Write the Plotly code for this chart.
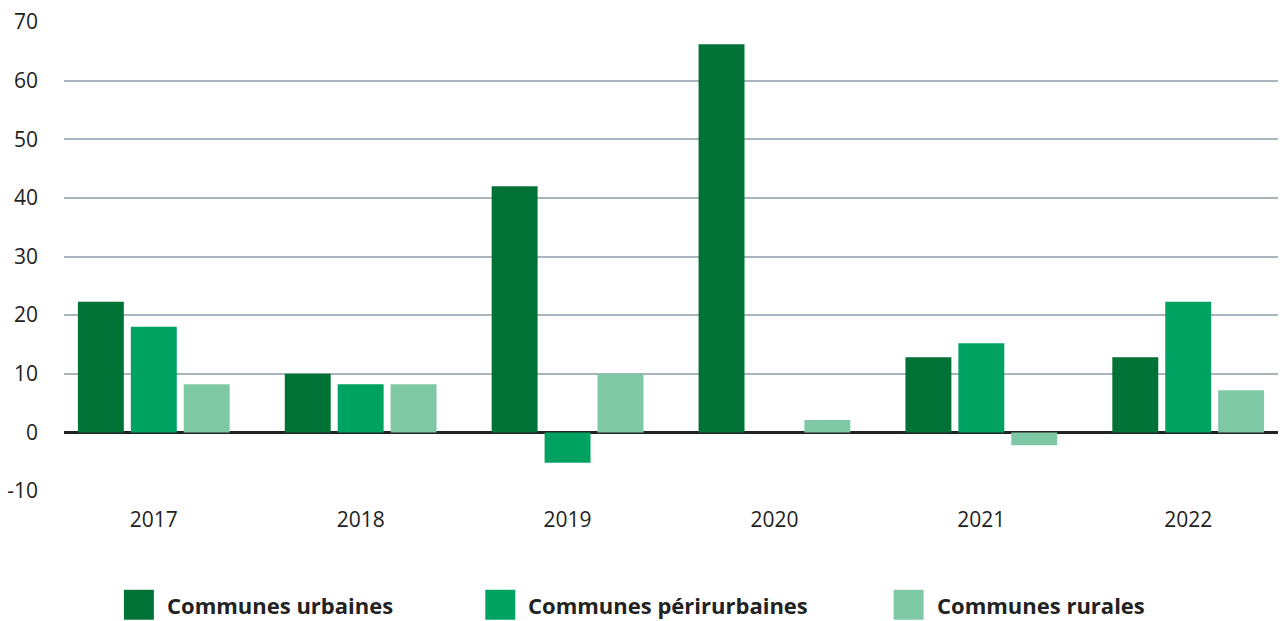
import plotly.graph_objects as go

years = ["2017", "2018", "2019", "2020", "2021", "2022"]
urbaines = [22.3, 10.0, 42.0, 66.2, 12.8, 12.8]
periurbaines = [18.0, 8.2, -5.2, 0.0, 15.2, 22.3]
rurales = [8.2, 8.2, 10.0, 2.1, -2.2, 7.2]
series_names = ["Communes urbaines", "Communes périrurbaines", "Communes rurales"]
colors = ["#007236", "#00A262", "#7EC8A6"]
y_ticks = [-10, 0, 10, 20, 30, 40, 50, 60, 70]
y_tick_text = ["-10", "0", "10", "20", "30", "40", "50", "60", "70"]

fig = go.Figure()
for name, vals, col in zip(series_names, [urbaines, periurbaines, rurales], colors):
    fig.add_trace(go.Bar(x=years, y=vals, name=name, marker_color=col,
                         marker_line_width=0, showlegend=False))

W, H = 1285, 621
ml, mr, mt, mb = 62, 7, 21, 130
fig.update_layout(
    width=W, height=H,
    margin=dict(l=ml, r=mr, t=mt, b=mb),
    paper_bgcolor="white", plot_bgcolor="white",
    barmode="group", bargap=0.2326, bargroupgap=0.132,
    font=dict(family="Open Sans", size=20, color="#222222"),
    xaxis=dict(type="category", range=[-0.434, 5.434], showgrid=False,
               showline=False, ticks="", ticklabelstandoff=14,
               tickfont=dict(size=21, color="#222222")),
    yaxis=dict(range=[-10, 70], tickvals=y_ticks, ticktext=y_tick_text,
               showgrid=True, gridcolor="#A9B5BD", gridwidth=2, zeroline=True,
               zerolinecolor="#222222", zerolinewidth=2.5,
               ticks="", ticklabelstandoff=25,
               tickfont=dict(size=21, color="#222222")),
)

# Manual legend (large square swatches)
legend_x = [122, 484, 893]
sq = 30
y_top = 590
for name, col, lx in zip(series_names, colors, legend_x):
    fig.add_shape(type="rect", xref="paper", yref="paper",
                  x0=(lx - ml) / (W - ml - mr), x1=(lx + sq - ml) / (W - ml - mr),
                  y0=(H - mb - (y_top + sq)) / (H - mt - mb),
                  y1=(H - mb - y_top) / (H - mt - mb),
                  fillcolor=col, line_width=0)
    fig.add_annotation(xref="paper", yref="paper",
                       x=(lx + sq + 11 - ml) / (W - ml - mr),
                       y=(H - mb - (y_top + sq / 2)) / (H - mt - mb),
                       text="<b>" + name + "</b>", showarrow=False,
                       xanchor="left", yanchor="middle",
                       font=dict(family="Open Sans", size=22, color="#222222"))

fig.write_html("out.html")
